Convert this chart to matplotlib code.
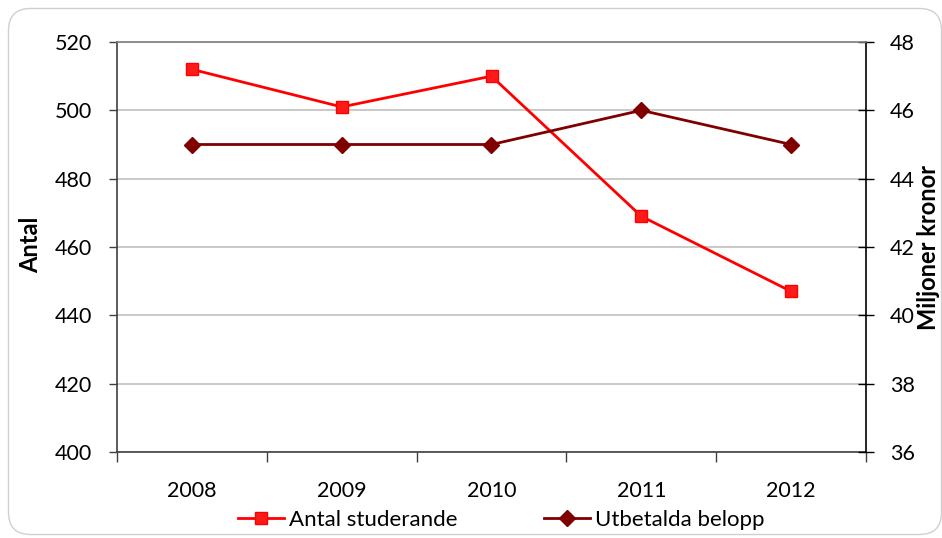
import matplotlib
matplotlib.use("Agg")
import matplotlib.pyplot as plt
from matplotlib.patches import FancyBboxPatch
from matplotlib.lines import Line2D

plt.rcParams["font.family"] = ["Lato", "DejaVu Sans"]

# data
years = ["2008", "2009", "2010", "2011", "2012"]
antal_studerande = [512, 501, 510, 469, 447]
utbetalda_belopp = [45, 45, 45, 46, 45]   # miljoner kronor

W, H = 942, 538
fig = plt.figure(figsize=(W / 100, H / 100), dpi=100)

# rounded chart border, drawn in pixel units on a background axes
bg = fig.add_axes([0, 0, 1, 1], zorder=-10)
bg.set_xlim(0, W)
bg.set_ylim(H, 0)
bg.axis("off")
bg.add_patch(FancyBboxPatch((8.5, 8.5), W - 9, H - 12,
                            boxstyle="round,pad=0,rounding_size=22",
                            facecolor="white", edgecolor="#d0d0d0", linewidth=1.0))

L, R, T, B = 117, 866, 42, 452
ax = fig.add_axes([L / W, 1 - B / H, (R - L) / W, (B - T) / H])
ax.set_facecolor("none")
ax2 = ax.twinx()

x = list(range(len(years)))
ax.plot(x, antal_studerande, color="#ff0000", linewidth=2.0, marker="s",
        markersize=8, markerfacecolor="#ff1a1a", markeredgecolor="#ff0000",
        zorder=3, clip_on=False)
ax2.plot(x, utbetalda_belopp, color="#800000", linewidth=2.0, marker="D",
         markersize=8.5, markerfacecolor="#800000", markeredgecolor="#800000",
         zorder=3, clip_on=False)

ax.set_xlim(-0.5, len(years) - 0.5)
ax.set_ylim(400, 520)
ax.set_yticks(range(400, 521, 20))
ax2.set_ylim(36, 48)
ax2.set_yticks(range(36, 49, 2))

ax.set_xticks(x)
ax.set_xticklabels(years)
ax.set_xticks([i - 0.5 for i in range(len(years) + 1)], minor=True)
ax.tick_params(axis="x", which="major", length=0, pad=21, labelsize=15.5)
ax.tick_params(axis="x", which="minor", length=7, width=1, color="#404040",
               direction="out")
ax.tick_params(axis="y", length=6, width=1, color="#404040", pad=12, labelsize=15.5)
ax2.tick_params(axis="y", length=12, width=1, color="#000000", direction="inout",
                pad=11, labelsize=15.5)

for a in (ax, ax2):
    for s in a.spines.values():
        s.set_visible(False)
ax.spines["left"].set_visible(True)
ax.spines["left"].set_color("#404040")
ax.spines["bottom"].set_visible(True)
ax.spines["bottom"].set_color("#404040")
ax2.spines["right"].set_visible(True)
ax2.spines["right"].set_color("#000000")
ax2.spines["top"].set_visible(True)
ax2.spines["top"].set_color("#808080")
for s in ("left", "bottom", "right", "top"):
    ax.spines[s].set_linewidth(1.2)
    ax2.spines[s].set_linewidth(1.2)

ax.yaxis.grid(True, color="#c0c0c0", linewidth=1.2)
ax.set_axisbelow(True)

# axis titles
fig.text(38 / W, 1 - 245 / H, "Antal", rotation=90, rotation_mode="anchor",
         ha="center", va="baseline", fontsize=17, fontweight="bold")
fig.text(936 / W, 1 - 247 / H, "Miljoner kronor", rotation=90,
         rotation_mode="anchor", ha="center", va="baseline",
         fontsize=17, fontweight="bold")

handles = [
    Line2D([], [], color="#ff0000", linewidth=2.0, marker="s", markersize=8,
           markerfacecolor="#ff1a1a"),
    Line2D([], [], color="#800000", linewidth=2.0, marker="D", markersize=8.5),
]
fig.legend(handles, ["Antal studerande", "Utbetalda belopp"], loc="center",
           bbox_to_anchor=(501 / W, 1 - 520 / H), ncol=2, frameon=False,
           fontsize=16, handlelength=2.1, handletextpad=0.2, columnspacing=3.9,
           borderpad=0)

fig.savefig("out.png", dpi=100)
